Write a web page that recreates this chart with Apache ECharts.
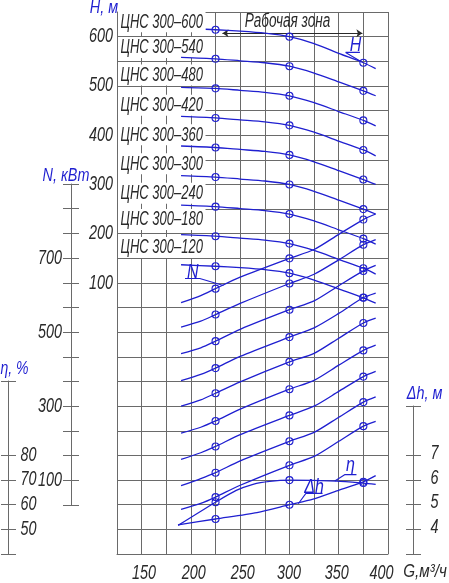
<!DOCTYPE html>
<html>
<head>
<meta charset="utf-8">
<style>
html, body { margin: 0; background: #fff; }
#chart { width: 449px; height: 583px; }
</style>
<script src="https://cdn.jsdelivr.net/npm/echarts@6/dist/echarts.min.js"></script>
</head>
<body>
<div id="chart"></div>
<script>
// pump names and the head level where each name is written
var pump_names = ['ЦНС 300–600', 'ЦНС 300–540', 'ЦНС 300–480', 'ЦНС 300–420', 'ЦНС 300–360',
    'ЦНС 300–300', 'ЦНС 300–240', 'ЦНС 300–180', 'ЦНС 300–120'];
var pump_label_q = 126;
var pump_label_h = [630, 578, 522, 461, 401, 342, 282, 229, 172];

// H(G)
var head_q_600 = [215, 225, 250, 275, 300, 325, 350, 375, 387.5];
var head_q = [190, 225, 250, 275, 300, 325, 350, 375, 387.5];
var head_600 = [615, 614, 611, 607, 600, 586, 566, 547, 535];
var head_540 = [558, 555, 551, 547, 540, 526, 508, 490, 480];
var head_480 = [497, 495, 491, 487, 480, 466, 448, 430, 419];
var head_420 = [438, 435, 431, 427, 420, 406, 388, 370, 358];
var head_360 = [378, 375, 371, 367, 360, 346, 328, 310, 300];
var head_300 = [318, 315, 311, 307, 300, 286, 268, 250, 240];
var head_240 = [258, 255, 251, 247, 240, 226, 208, 190, 179];
var head_180 = [198, 195, 191, 187, 180, 166, 148, 130, 118];
var head_120 = [137, 134, 131, 127, 120, 106, 88, 70, 59];

// N(G)
var power_q = [190, 210, 225, 250, 300, 325, 350, 375, 387.5];
var power_600 = [580, 599, 618, 649, 700, 724, 765, 805, 820];
var power_540 = [514, 530, 548, 578, 632, 657, 696, 737, 751];
var power_480 = [442, 458, 476, 508, 561, 585, 626, 666, 681];
var power_420 = [369, 386, 403, 435, 487, 512, 551, 594, 606];
var power_360 = [300, 317, 335, 366, 420, 443, 484, 525, 538];
var power_300 = [227, 243, 260, 292, 346, 370, 411, 451, 465];
var power_240 = [156, 174, 191, 223, 275, 300, 340, 380, 394];
var power_180 = [85, 104, 120, 152, 205, 229, 270, 311, 325];
var power_120 = [21, 37, 54, 86, 140, 164, 205, 246, 259];

// efficiency and NPSH
var eta_q = [187, 225, 246, 263, 280, 300, 348, 375, 387.5];
var eta_values = [51.6, 61, 65.8, 68.3, 69.5, 70, 69.6, 68.8, 68.3];
var npsh_q = [187, 225, 267, 300, 324, 348, 375, 387.5];
var npsh_values = [4.18, 4.42, 4.68, 5, 5.23, 5.56, 5.93, 6.18];

// flows that carry a circle
var marked_q = [225, 300, 375];

// leader lines of the curve labels, on the head scale
var leader_h = [[371.5, 568], [357, 568], [372, 550]];
var leader_n = [[194, 109], [209, 109], [233, 95]];
var leader_npsh = [[309, -348], [316.7, -327], [333.6, -327]];
var leader_eta = [[346, -302], [356, -289], [368, -289]];
var curve_notes = [[367, 582, 'H'], [202, 122, 'N'], [325, -315, 'Δh'], [362, -271, 'η']];

// working zone
var zone_from = [232, 607];
var zone_to = [374, 607];
var zone_note = [[298, 631, 'Рабочая зона']];

// axis labels
var x_label_at = [152.5, 203, 252.5, 299.5, 348, 393.5];
var x_labels = ['150', '200', '250', '300', '350', '400'];
var h_labels = [100, 200, 300, 400, 500, 600];
var n_labels = [100, 300, 500, 700];
var n_ticks = [100 / 3, 100, 500 / 3, 700 / 3, 300, 1100 / 3, 1300 / 3, 500, 1700 / 3, 1900 / 3, 700, 2300 / 3, 2500 / 3, 900];
var eta_labels = [50, 60, 70, 80];
var eta_ticks = [40, 50, 60, 70, 80, 110];
var npsh_labels = [4, 5, 6, 7];
var npsh_ticks = [3, 4, 5, 6, 7, 9];

var blue = '#1f1fd0';
var gray = '#6a6a6a';
var ink = '#2a2a2a';

function zip(xs, ys) {
    return xs.map(function (x, i) { return [x, ys[i]]; });
}

function curve(name, xs, ys, y_index) {
    return {
        type: 'line',
        name: name,
        xAxisIndex: 0,
        yAxisIndex: y_index,
        data: zip(xs, ys),
        smooth: 0.25,
        symbol: 'circle',
        showAllSymbol: true,
        symbolSize: function (v) { return marked_q.indexOf(v[0]) >= 0 ? 7 : 0; },
        itemStyle: { color: 'rgba(0,0,0,0)', borderColor: blue, borderWidth: 1.1 },
        lineStyle: { color: blue, width: 1.3 },
        silent: true,
        z: 5
    };
}

function leader(name, pts) {
    return {
        type: 'line',
        name: name,
        xAxisIndex: 0,
        yAxisIndex: 0,
        data: pts,
        symbol: 'none',
        lineStyle: { color: blue, width: 1.1 },
        silent: true,
        z: 5
    };
}

// the drawing's lettering is narrow, no narrow face is installed, so squeeze the text
function text_series(name, pts, axes, o) {
    return {
        type: 'custom',
        name: name,
        coordinateSystem: 'cartesian2d',
        xAxisIndex: axes[0],
        yAxisIndex: axes[1],
        data: pts.map(function (p) { return [p[0], p[1]]; }),
        encode: { x: 0, y: 1 },
        silent: true,
        z: o.z || 6,
        renderItem: function (params, api) {
            var pos = api.coord([api.value(0), api.value(1)]);
            return {
                type: 'text',
                x: pos[0] + (o.dx || 0),
                y: pos[1] + (o.dy || 0),
                scaleX: o.squeeze,
                style: {
                    text: String(pts[params.dataIndex][2]),
                    fill: o.color,
                    font: 'italic ' + o.size + 'px "Liberation Sans", sans-serif',
                    align: o.align || 'center',
                    verticalAlign: 'middle',
                    backgroundColor: o.background,
                    padding: o.padding
                }
            };
        }
    };
}

function at_x(values, labels, y) {
    return values.map(function (v, i) { return [v, y, labels[i]]; });
}

function at_y(values, x) {
    return values.map(function (v) { return [x, v, v]; });
}

// small scale drawn on its own narrow grid: split lines act as ticks through the spine
function side_scale(grid, min, max, ticks) {
    return {
        type: 'value',
        gridIndex: grid,
        min: min,
        max: max,
        axisLine: { show: true, onZero: true, lineStyle: { color: gray, width: 1 } },
        axisTick: { show: false, customValues: ticks },
        splitLine: { show: true, lineStyle: { color: gray, width: 1 } },
        axisLabel: { show: false }
    };
}

function hidden_x(grid) {
    return { type: 'value', gridIndex: grid, min: -1, max: 1, show: false };
}

function hidden_y(min, max) {
    return { type: 'value', gridIndex: 0, min: min, max: max, show: false };
}

var series = [
    curve('H 600', head_q_600, head_600, 0),
    curve('H 540', head_q, head_540, 0),
    curve('H 480', head_q, head_480, 0),
    curve('H 420', head_q, head_420, 0),
    curve('H 360', head_q, head_360, 0),
    curve('H 300', head_q, head_300, 0),
    curve('H 240', head_q, head_240, 0),
    curve('H 180', head_q, head_180, 0),
    curve('H 120', head_q, head_120, 0),
    curve('N 600', power_q, power_600, 1),
    curve('N 540', power_q, power_540, 1),
    curve('N 480', power_q, power_480, 1),
    curve('N 420', power_q, power_420, 1),
    curve('N 360', power_q, power_360, 1),
    curve('N 300', power_q, power_300, 1),
    curve('N 240', power_q, power_240, 1),
    curve('N 180', power_q, power_180, 1),
    curve('N 120', power_q, power_120, 1),
    curve('eta', eta_q, eta_values, 2),
    curve('npsh', npsh_q, npsh_values, 3),
    leader('leader H', leader_h),
    leader('leader N', leader_n),
    leader('leader npsh', leader_npsh),
    leader('leader eta', leader_eta),
    text_series('curve notes', curve_notes, [0, 0], { color: blue, size: 20, squeeze: 0.8 }),
    text_series('zone note', zone_note, [0, 0], { color: ink, size: 20, squeeze: 0.68 }),
    text_series('pump names',
        pump_names.map(function (n, i) { return [pump_label_q, pump_label_h[i], n]; }),
        [0, 0],
        { color: ink, size: 21, squeeze: 0.62, align: 'left', background: '#fff', padding: [0, 4, 0, 4], z: 3 }),
    // tick labels
    text_series('x labels', at_x(x_label_at, x_labels, -450), [0, 0], { color: ink, size: 20, squeeze: 0.72, dy: 19 }),
    text_series('H labels', at_y(h_labels, 125), [0, 0], { color: ink, size: 20, squeeze: 0.72, align: 'right', dx: -4 }),
    text_series('N labels', at_y(n_labels, 0), [1, 4], { color: ink, size: 20, squeeze: 0.72, align: 'right', dx: -9 }),
    text_series('eta labels', at_y(eta_labels, 0), [2, 5], { color: ink, size: 20, squeeze: 0.72, align: 'left', dx: 12 }),
    text_series('npsh labels', at_y(npsh_labels, 0), [3, 6], { color: ink, size: 20, squeeze: 0.72, dx: 21, dy: -2 }),
    // axis names
    text_series('H name', [[125, 650, 'H, м']], [0, 0], { color: blue, size: 18, squeeze: 0.8, align: 'right', dx: 1, dy: -4 }),
    text_series('G name', [[400, -450, 'G,м³/ч']], [0, 0], { color: ink, size: 19, squeeze: 0.8, dx: 37, dy: 18 }),
    text_series('N name', [[0, 900, 'N, кВт']], [1, 4], { color: blue, size: 18, squeeze: 0.8, dx: -5, dy: -8 }),
    text_series('eta name', [[0, 110, 'η, %']], [2, 5], { color: blue, size: 18, squeeze: 0.78, dx: 6, dy: -12 }),
    text_series('npsh name', [[0, 9, 'Δh, м']], [3, 6], { color: blue, size: 18, squeeze: 0.8, dx: 11, dy: -12 }),
    {
        type: 'line',
        name: 'zone',
        xAxisIndex: 0,
        yAxisIndex: 0,
        data: [],
        markLine: {
            silent: true,
            symbol: ['arrow', 'arrow'],
            symbolSize: 6,
            label: { show: false },
            lineStyle: { color: ink, type: 'solid', width: 1 },
            data: [[{ coord: zone_from }, { coord: zone_to }]]
        }
    }
];

var myChart = echarts.init(document.getElementById('chart'), null, { renderer: 'canvas' });

myChart.setOption({
    animation: false,
    backgroundColor: '#fff',
    grid: [
        { left: 117, top: 12, width: 271, height: 542, outerBoundsMode: 'none' },
        { left: 63, top: 184, width: 16, height: 321, outerBoundsMode: 'none' },
        { left: 1, top: 381, width: 15, height: 173, outerBoundsMode: 'none' },
        { left: 406, top: 406, width: 15, height: 148, outerBoundsMode: 'none' }
    ],
    xAxis: [
        {
            type: 'value',
            gridIndex: 0,
            min: 125,
            max: 400,
            interval: 25,
            axisLine: { show: true, onZero: false, lineStyle: { color: gray, width: 1 } },
            axisTick: { show: false },
            splitLine: { show: true, lineStyle: { color: gray, width: 1 } },
            axisLabel: { show: false }
        },
        hidden_x(1),
        hidden_x(2),
        hidden_x(3)
    ],
    yAxis: [
        {
            type: 'value',
            gridIndex: 0,
            min: -450,
            max: 650,
            interval: 50,
            axisLine: { show: true, onZero: false, lineStyle: { color: gray, width: 1 } },
            axisTick: { show: false },
            splitLine: { show: true, lineStyle: { color: gray, width: 1 } },
            axisLabel: { show: false }
        },
        hidden_y(-100, 1366.67),
        hidden_y(40, 260),
        hidden_y(3, 25),
        side_scale(1, 100 / 3, 900, n_ticks),
        side_scale(2, 40, 110, eta_ticks),
        side_scale(3, 3, 9, npsh_ticks)
    ],
    series: series
});
</script>
</body>
</html>
